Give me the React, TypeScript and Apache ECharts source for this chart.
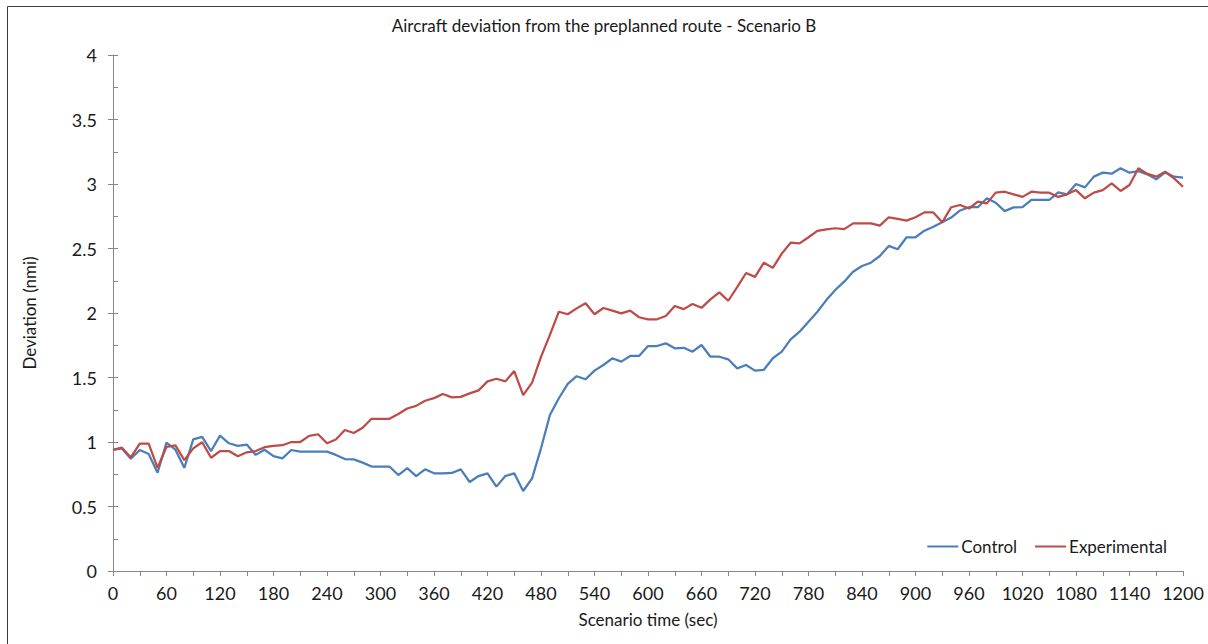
import React, { useEffect, useRef } from "react";
import * as echarts from "echarts";

const times: number[] = [];
for (let t = 0; t <= 1200; t += 10) times.push(t);

const controlValues = [
  0.938, 0.95, 0.87, 0.938, 0.907, 0.762, 0.995, 0.94, 0.8, 1.02,
  1.04, 0.93, 1.049, 0.99, 0.97, 0.98, 0.9, 0.94, 0.89, 0.873,
  0.938, 0.925, 0.925, 0.925, 0.925, 0.9, 0.868, 0.865, 0.84, 0.81,
  0.81, 0.81, 0.744, 0.798, 0.736, 0.788, 0.757, 0.757, 0.76, 0.788,
  0.69, 0.736, 0.757, 0.654, 0.736, 0.757, 0.62, 0.718, 0.951, 1.209,
  1.339, 1.45, 1.51, 1.486, 1.553, 1.597, 1.649, 1.623, 1.667, 1.667,
  1.744, 1.744, 1.765, 1.726, 1.73, 1.7, 1.752, 1.661, 1.661, 1.641,
  1.571, 1.597, 1.553, 1.56, 1.649, 1.7, 1.796, 1.855, 1.933, 2.01,
  2.1, 2.178, 2.243, 2.32, 2.364, 2.39, 2.442, 2.52, 2.494, 2.587,
  2.587, 2.638, 2.669, 2.703, 2.74, 2.795, 2.82, 2.82, 2.889, 2.855,
  2.79, 2.819, 2.82, 2.876, 2.876, 2.876, 2.935, 2.92, 3.0, 2.974,
  3.057, 3.088, 3.08, 3.122, 3.088, 3.1, 3.075, 3.036, 3.09, 3.057,
  3.05,
];

const experimentalValues = [
  0.94, 0.956, 0.88, 0.987, 0.987, 0.8, 0.963, 0.974, 0.86, 0.951,
  0.998, 0.878, 0.93, 0.93, 0.89, 0.92, 0.93, 0.96, 0.97, 0.975,
  1.0, 1.0, 1.047, 1.06, 0.99, 1.02, 1.093, 1.07, 1.11, 1.18,
  1.18, 1.18, 1.217, 1.26, 1.28, 1.32, 1.34, 1.372, 1.346, 1.35,
  1.377, 1.4, 1.47, 1.49, 1.47, 1.55, 1.364, 1.46, 1.66, 1.83,
  2.01, 1.99, 2.036, 2.075, 1.99, 2.039, 2.018, 1.997, 2.018, 1.967,
  1.951, 1.951, 1.977, 2.054, 2.03, 2.07, 2.04, 2.106, 2.16, 2.095,
  2.2, 2.31, 2.28, 2.39, 2.35, 2.46, 2.545, 2.54, 2.587, 2.636,
  2.649, 2.657, 2.65, 2.695, 2.695, 2.695, 2.677, 2.742, 2.73, 2.716,
  2.742, 2.78, 2.78, 2.703, 2.82, 2.837, 2.81, 2.863, 2.85, 2.933,
  2.94, 2.92, 2.9, 2.94, 2.933, 2.933, 2.9, 2.92, 2.953, 2.889,
  2.933, 2.953, 3.005, 2.946, 2.992, 3.122, 3.078, 3.057, 3.095, 3.044,
  2.979,
];

const seriesNames = ["Control", "Experimental"];
const titleText = "Aircraft deviation from the preplanned route - Scenario B";
const xAxisName = "Scenario time (sec)";
const yAxisName = "Deviation (nmi)";

const FONT = "Lato, 'Open Sans', sans-serif";
const AXIS_COLOR = "#868686";
const TEXT_COLOR = "#1a1a1a";

export default function App() {
  const ref = useRef<HTMLDivElement>(null);
  useEffect(() => {
    if (!ref.current) return;
    const chart = echarts.init(ref.current, null, { renderer: "svg" });
    const pair = (vals: number[]) => times.map((t, i) => [t, vals[i]]);
    chart.setOption({
      animation: false,
      backgroundColor: "#ffffff",
      textStyle: { fontFamily: FONT },
      title: {
        text: titleText,
        left: "center",
        top: 12,
        textStyle: { fontFamily: FONT, fontSize: 17, fontWeight: "normal", color: TEXT_COLOR },
      },
      legend: {
        right: 36,
        top: 533,
        icon: "rect",
        itemWidth: 31,
        itemHeight: 2,
        itemGap: 18,
        textStyle: { fontFamily: FONT, fontSize: 17, color: TEXT_COLOR, padding: [0, 0, 0, -2] },
        data: seriesNames,
      },
      grid: { left: 113, right: 25, top: 55, bottom: 73, containLabel: false },
      xAxis: {
        type: "value",
        min: 0,
        max: 1200,
        interval: 30,
        name: xAxisName,
        nameLocation: "middle",
        nameGap: 40,
        nameTextStyle: { fontFamily: FONT, fontSize: 17, color: TEXT_COLOR },
        axisLine: { show: true, lineStyle: { color: AXIS_COLOR, width: 1 } },
        axisTick: { show: true, length: 5, lineStyle: { color: AXIS_COLOR } },
        axisLabel: {
          fontFamily: FONT,
          fontSize: 18,
          color: TEXT_COLOR,
          margin: 13,
          formatter: (v: number) => (v % 60 === 0 ? String(v) : ""),
        },
        splitLine: { show: false },
      },
      yAxis: [
        {
          type: "value",
          min: 0,
          max: 4,
          interval: 0.5,
          name: yAxisName,
          nameLocation: "middle",
          nameGap: 75,
          nameTextStyle: { fontFamily: FONT, fontSize: 17, color: TEXT_COLOR },
          axisLine: { show: true, lineStyle: { color: AXIS_COLOR, width: 1 } },
          axisTick: { show: true, length: 5, lineStyle: { color: AXIS_COLOR } },
          axisLabel: { fontFamily: FONT, fontSize: 18, color: TEXT_COLOR, margin: 16 },
          splitLine: { show: false },
        },
        {
          type: "value",
          min: 0,
          max: 4,
          interval: 0.25,
          position: "left",
          offset: 0,
          axisLine: { show: false },
          axisTick: { show: true, inside: true, length: 5, lineStyle: { color: AXIS_COLOR } },
          axisLabel: { show: false },
          splitLine: { show: false },
        },
      ],
      series: [
        {
          name: seriesNames[0],
          type: "line",
          yAxisIndex: 0,
          data: pair(controlValues),
          showSymbol: false,
          symbol: "none",
          lineStyle: { color: "#4a7ebb", width: 2.25 },
          itemStyle: { color: "#4a7ebb" },
        },
        {
          name: seriesNames[1],
          type: "line",
          yAxisIndex: 0,
          data: pair(experimentalValues),
          showSymbol: false,
          symbol: "none",
          lineStyle: { color: "#be4b48", width: 2.25 },
          itemStyle: { color: "#be4b48" },
        },
      ],
      graphic: [
        {
          type: "rect",
          shape: { x: 7.5, y: 6.5, width: 1220, height: 660 },
          style: { fill: "none", stroke: "#3a3a3a", lineWidth: 1 },
          silent: true,
        },
      ],
    });
    return () => chart.dispose();
  }, []);
  return (
    <div
      ref={ref}
      style={{ position: "fixed", left: 0, top: 0, width: 1208, height: 644 }}
    />
  );
}
